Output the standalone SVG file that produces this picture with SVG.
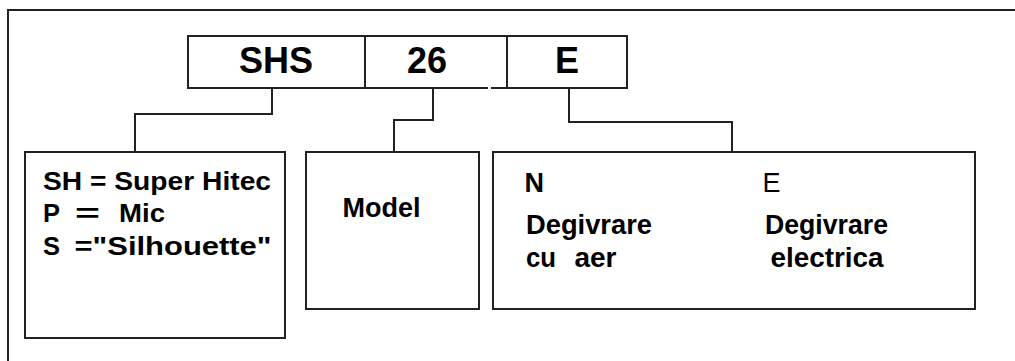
<svg xmlns="http://www.w3.org/2000/svg" width="1015" height="361" viewBox="0 0 1015 361">
<style>
.ln{fill:none;stroke:#222;stroke-width:2}
.bx{fill:#fff;stroke:#222;stroke-width:2}
.t{font-family:"Liberation Sans",Arial,sans-serif;font-weight:bold;fill:#000}
.big{font-size:36px;text-anchor:middle}
.md{font-size:25.5px}
.lg{font-size:27px}
.reg{font-weight:normal}
</style>
<rect width="1015" height="361" fill="#fff"/>
<g id="frame">
<path class="ln" d="M8,361 V10 H1015"/>
</g>
<g id="code">
<g id="cell-shs">
<path class="ln" d="M188,36 H365 V88 H188 Z"/>
<text class="t big" x="276" y="73">SHS</text>
</g>
<g id="cell-26">
<path class="ln" d="M365,36 H507 M365,88 H488 M491,88 H507"/>
<text class="t big" x="427" y="73">26</text>
</g>
<g id="cell-e">
<path class="ln" d="M507,36 H627 V88 H507 Z"/>
<text class="t big" x="567" y="73">E</text>
</g>
</g>
<g id="connectors">
<path class="ln" d="M272,88 V114 H135 V152"/>
<path class="ln" d="M433,88 V120 H394 V152"/>
<path class="ln" d="M569,88 V122 H732 V152"/>
</g>
<g id="box-series">
<rect class="bx" x="25" y="152" width="260" height="186"/>
<text class="t md" x="43" y="189.5" textLength="228" lengthAdjust="spacingAndGlyphs">SH = Super Hitec</text>
<text class="t md" y="222"><tspan x="43">P</tspan><tspan x="75" textLength="25" lengthAdjust="spacingAndGlyphs">=</tspan><tspan x="119" textLength="46" lengthAdjust="spacingAndGlyphs">Mic</tspan></text>
<text class="t md" y="254.5"><tspan x="43">S</tspan><tspan x="74.5" textLength="197" lengthAdjust="spacingAndGlyphs">="Silhouette"</tspan></text>
</g>
<g id="box-model">
<rect class="bx" x="306" y="152" width="173" height="157"/>
<text class="t lg" x="342.5" y="217" textLength="78" lengthAdjust="spacingAndGlyphs">Model</text>
</g>
<g id="box-defrost">
<rect class="bx" x="493" y="152" width="482" height="157"/>
<text class="t lg" x="524.5" y="192">N</text>
<text class="t lg" x="526" y="233.5" textLength="126" lengthAdjust="spacingAndGlyphs">Degivrare</text>
<text class="t lg" y="266.5"><tspan x="526" textLength="30" lengthAdjust="spacingAndGlyphs">cu</tspan><tspan x="574.5" textLength="42" lengthAdjust="spacingAndGlyphs">aer</tspan></text>
<text class="t lg reg" x="762.5" y="192">E</text>
<text class="t lg" x="765" y="233.5" textLength="123" lengthAdjust="spacingAndGlyphs">Degivrare</text>
<text class="t lg" x="770.5" y="266.5" textLength="113" lengthAdjust="spacingAndGlyphs">electrica</text>
</g>
</svg>
